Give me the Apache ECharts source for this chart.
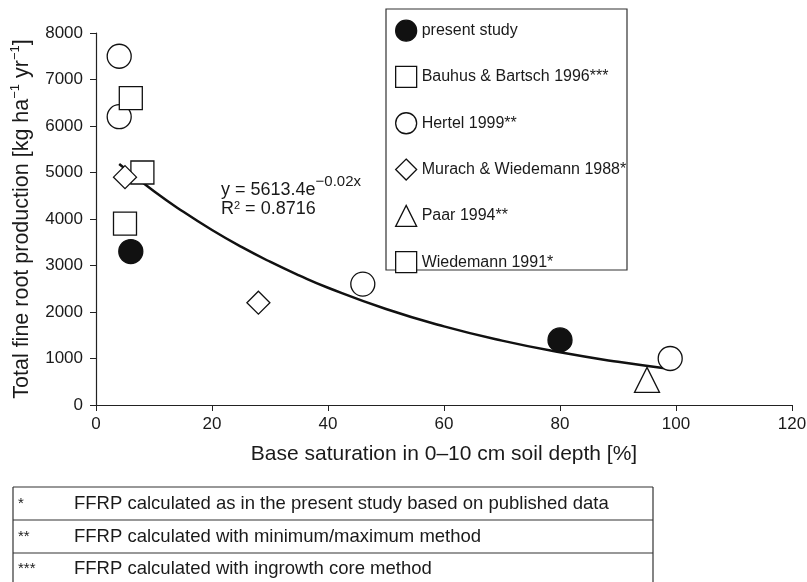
<!DOCTYPE html>
<html>
<head>
<meta charset="utf-8">
<script src="https://cdn.jsdelivr.net/npm/echarts@6/dist/echarts.min.js"></script>
<style>html,body{margin:0;padding:0;background:#fff;}#c{width:807px;height:582px;}</style>
</head>
<body>
<div id="c"></div>
<script>
// ---- data ----
const presentStudy = [[6, 3300], [80, 1400]];
const bauhusBartsch = [[8, 5000]];
const hertel = [[4, 7500], [4, 6200], [46, 2600], [99, 1000]];
const murachWiedemann = [[5, 4900], [28, 2200]];
const paar = [[95, 540]];
const wiedemann = [[6, 6600], [5, 3900]];
const trendX = [4, 10, 15, 20, 25, 30, 35, 40, 50, 60, 70, 80, 90, 99];
const trendY = [5182, 4596, 4160, 3763, 3404, 3081, 2788, 2522, 2065, 1691, 1384, 1133, 928, 776];
const seriesNames = ['present study', 'Bauhus & Bartsch 1996***', 'Hertel 1999**', 'Murach & Wiedemann 1988*', 'Paar 1994**', 'Wiedemann 1991*'];
const footMarks = ['*', '**', '***'];
const footTexts = [
  'FFRP calculated as in the present study based on published data',
  'FFRP calculated with minimum/maximum method',
  'FFRP calculated with ingrowth core method'
];

const FONT = 'Liberation Sans, Arial, sans-serif';
const INK = '#1a1a1a';
const chart = echarts.init(document.getElementById('c'), null, {renderer: 'canvas'});

function sc(name, data, symbol, size, filled) {
  return {
    name: name, type: 'scatter', data: data, symbol: symbol, symbolSize: size,
    itemStyle: {color: filled ? '#111' : '#fff', borderColor: '#111', borderWidth: 1.3, opacity: 1},
    z: 3
  };
}

const footGraphics = [];
const rowTops = [487, 520, 553];
const rowMids = [504, 537, 569];
footGraphics.push({type: 'line', shape: {x1: 13, y1: 487, x2: 13, y2: 582}, style: {stroke: '#333', lineWidth: 1.2}});
footGraphics.push({type: 'line', shape: {x1: 653, y1: 487, x2: 653, y2: 582}, style: {stroke: '#333', lineWidth: 1.2}});
rowTops.forEach(function (t, i) {
  footGraphics.push({type: 'line', shape: {x1: 13, y1: t, x2: 653, y2: t}, style: {stroke: '#333', lineWidth: 1.2}});
  footGraphics.push({type: 'text', x: 18, y: rowMids[i], style: {text: footMarks[i], font: '15px ' + FONT, fill: INK, verticalAlign: 'middle'}});
  footGraphics.push({type: 'text', x: 74, y: rowMids[i], style: {text: footTexts[i], font: '18.5px ' + FONT, fill: INK, verticalAlign: 'middle'}});
});

const option = {
  animation: false,
  backgroundColor: '#fff',
  grid: {left: 96, right: 15, top: 33, bottom: 177, containLabel: false, outerBoundsMode: 'none'},
  xAxis: {
    type: 'value', min: 0, max: 120, interval: 20,
    name: 'Base saturation in 0\u201310 cm soil depth [%]',
    nameLocation: 'middle', nameGap: 39,
    nameTextStyle: {fontFamily: FONT, fontSize: 21, color: INK},
    axisLine: {lineStyle: {color: '#222', width: 1.2}},
    axisTick: {show: true, inside: false, length: 6, lineStyle: {color: '#222'}},
    axisLabel: {fontFamily: FONT, fontSize: 17, color: INK, margin: 11},
    splitLine: {show: false}
  },
  yAxis: {
    type: 'value', min: 0, max: 8000, interval: 1000,
    name: '{a|Total fine root production [kg ha}{s|\u22121}{a| yr}{s|\u22121}{a|]}',
    nameLocation: 'middle', nameGap: 61,
    nameTextStyle: {
      fontFamily: FONT, fontSize: 21, color: INK,
      rich: {
        a: {fontFamily: FONT, fontSize: 21.5, color: INK, lineHeight: 26},
        s: {fontFamily: FONT, fontSize: 13, color: INK, verticalAlign: 'top'}
      }
    },
    axisLine: {show: true, lineStyle: {color: '#222', width: 1.2}},
    axisTick: {show: true, inside: false, length: 6, lineStyle: {color: '#222'}},
    axisLabel: {fontFamily: FONT, fontSize: 17, color: INK, margin: 13, formatter: function (v) { return String(v); }},
    splitLine: {show: false}
  },
  legend: {
    data: seriesNames,
    orient: 'vertical', left: 395, top: 19.5, padding: 0,
    itemWidth: 21, itemHeight: 21, itemGap: 24,
    textStyle: {fontFamily: FONT, fontSize: 16, color: INK, lineHeight: 21},
    itemStyle: {borderWidth: 1.3}
  },
  graphic: [
    {type: 'rect', shape: {x: 386, y: 9, width: 241, height: 261}, style: {fill: 'none', stroke: '#333', lineWidth: 1.2}, z: 1},
    {type: 'text', left: 221, top: 174, z: 5, style: {
      text: '{a|y = 5613.4e}{s|\u22120.02x}',
      rich: {
        a: {fontFamily: FONT, fontSize: 18, fill: INK, lineHeight: 32},
        s: {fontFamily: FONT, fontSize: 15, fill: INK, verticalAlign: 'top'}
      }
    }},
    {type: 'text', left: 221, top: 200, z: 5, style: {
      text: '{a|R}{s|2}{a| = 0.8716}',
      rich: {
        a: {fontFamily: FONT, fontSize: 18, fill: INK, lineHeight: 17},
        s: {fontFamily: FONT, fontSize: 11, fill: INK, verticalAlign: 'top'}
      }
    }}
  ].concat(footGraphics),
  series: [
    sc(seriesNames[0], presentStudy, 'circle', 24, true),
    sc(seriesNames[1], bauhusBartsch, 'rect', 23, false),
    sc(seriesNames[2], hertel, 'circle', 24, false),
    sc(seriesNames[3], murachWiedemann, 'diamond', 23, false),
    sc(seriesNames[4], paar, 'triangle', 25, false),
    sc(seriesNames[5], wiedemann, 'rect', 23, false),
    {
      name: 'trend', type: 'line', smooth: true, showSymbol: false, symbol: 'none',
      data: trendX.map(function (x, i) { return [x, trendY[i]]; }),
      lineStyle: {color: '#111', width: 2.5}, z: 2, silent: true
    }
  ]
};
chart.setOption(option);
</script>
</body>
</html>
